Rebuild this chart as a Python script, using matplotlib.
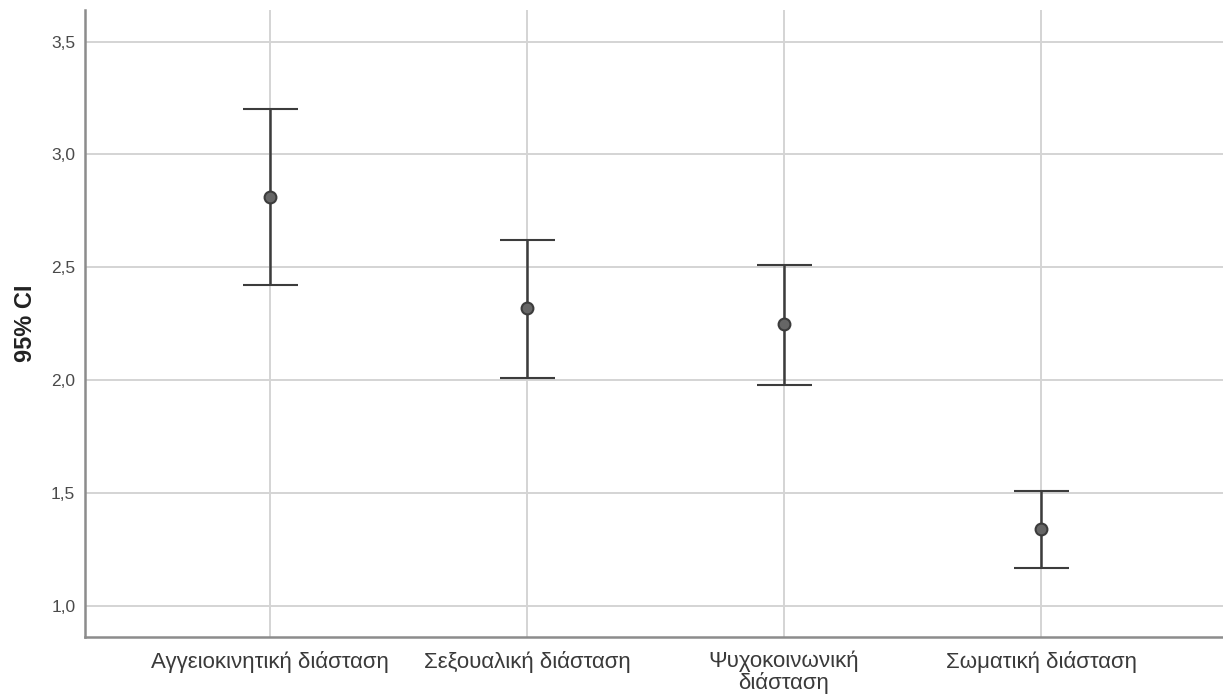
import matplotlib
matplotlib.use("Agg")
import matplotlib.pyplot as plt
from matplotlib.ticker import FuncFormatter

categories = ["Αγγειοκινητική διάσταση", "Σεξουαλική διάσταση",
              "Ψυχοκοινωνική\nδιάσταση", "Σωματική διάσταση"]
means = [2.81, 2.32, 2.25, 1.34]
ci_low = [2.42, 2.01, 1.98, 1.17]
ci_high = [3.20, 2.62, 2.51, 1.51]
yticks = [1.0, 1.5, 2.0, 2.5, 3.0, 3.5]

plt.rcParams["font.family"] = ["Liberation Sans", "DejaVu Sans"]

fig = plt.figure(figsize=(12.23, 6.98), dpi=100)
ax = fig.add_axes([0.0695, 0.0874, 0.9305, 0.8983])

x = list(range(len(categories)))
yerr = [[m - lo for m, lo in zip(means, ci_low)],
        [hi - m for m, hi in zip(means, ci_high)]]
ax.errorbar(x, means, yerr=yerr, fmt="o", color="#3c3c3c", ecolor="#3c3c3c",
            elinewidth=1.8, capsize=19.8, capthick=1.8,
            markersize=8.5, markerfacecolor="#666666", markeredgecolor="#3c3c3c",
            markeredgewidth=1.5, zorder=3)

ax.set_xlim(-0.72, 3.708)
ax.set_ylim(0.863, 3.640)
ax.set_xticks(x)
ax.set_xticklabels(categories, fontsize=16, color="#3a3a3a", linespacing=0.97)
ax.set_yticks(yticks)
ax.yaxis.set_major_formatter(FuncFormatter(lambda v, _: f"{v:.1f}".replace(".", ",")))
ax.tick_params(axis="y", length=0, labelsize=12.5, labelcolor="#4a4a4a", pad=7)
ax.tick_params(axis="x", length=0, pad=10)

ax.grid(True, color="#d4d4d4", linewidth=1.4, zorder=0)
ax.set_axisbelow(True)
for side in ("top", "right"):
    ax.spines[side].set_visible(False)
for side in ("left", "bottom"):
    ax.spines[side].set_color("#8c8c8c")
    ax.spines[side].set_linewidth(1.8)

ax.set_ylabel("95% CI", fontsize=17, fontweight="bold", color="#222222", labelpad=10)

fig.savefig("out.png", dpi=100)
